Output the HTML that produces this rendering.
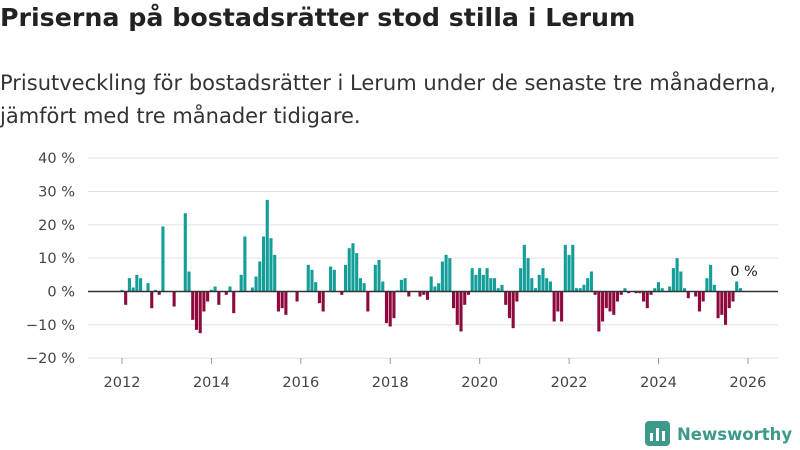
<!DOCTYPE html>
<html><head><meta charset="utf-8"><style>
body{margin:0;width:800px;height:450px;background:#fff;font-family:"DejaVu Sans","Liberation Sans",sans-serif;overflow:hidden}
h1{position:absolute;left:0;top:3px;margin:0;font-size:25.3px;font-weight:bold;color:#222;white-space:nowrap}
.sub{position:absolute;left:0;top:67px;font-size:21px;line-height:33px;color:#333;white-space:nowrap}
svg{position:absolute;left:0;top:0}
</style></head><body>
<h1>Priserna på bostadsrätter stod stilla i Lerum</h1>
<div class="sub">Prisutveckling för bostadsrätter i Lerum under de senaste tre månaderna,<br>jämfört med tre månader tidigare.</div>
<svg id="chart" width="800" height="450" font-family="DejaVu Sans, Liberation Sans, sans-serif"></svg>
<script>
const startYear = 2012;
const changes = {0:0.5,1:-4,2:4,3:1.2,4:5,5:4,7:2.5,8:-5,9:0.5,10:-1,11:19.5,14:-4.5,17:23.5,18:6,19:-8.5,20:-11.5,21:-12.5,22:-6,23:-3,24:0.5,25:1.5,26:-4,28:-1,29:1.5,30:-6.5,32:5,33:16.5,35:1.2,36:4.5,37:9,38:16.5,39:27.5,40:16,41:11,42:-6,43:-5,44:-7,47:-3,50:8,51:6.5,52:2.8,53:-3.5,54:-6,56:7.5,57:6.5,59:-1,60:8,61:13,62:14.5,63:11.5,64:4,65:2.5,66:-6,68:8,69:9.5,70:3,71:-9.5,72:-10.5,73:-8,74:0.3,75:3.5,76:4,77:-1.5,80:-1.5,81:-1,82:-2.5,83:4.5,84:1.5,85:2.5,86:9,87:11,88:10,89:-5,90:-10,91:-12,92:-4,93:-1,94:7,95:5,96:7,97:5,98:7,99:4,100:4,101:1,102:2,103:-4,104:-8,105:-11,106:-3,107:7,108:14,109:10,110:4,111:1,112:5,113:7,114:4,115:3,116:-9,117:-6,118:-9,119:14,120:11,121:14,122:1,123:1,124:2,125:4,126:6,127:-1,128:-12,129:-9,130:-5,131:-6,132:-7,133:-3,134:-1,135:1,136:-0.5,138:-0.5,139:-0.5,140:-3,141:-5,142:-1,143:1,144:2.8,145:1,147:1.5,148:7,149:10,150:6,151:1,152:-2,154:-1.5,155:-6,156:-3,157:4,158:8,159:2,160:-8,161:-7,162:-10,163:-5,164:-3,165:3,166:1};
const nMonths = 167;
const values = [];
for (let i = 0; i < nMonths; i++) values.push(changes[i] !== undefined ? changes[i] : 0);
const yTicks = [40,30,20,10,0,-10,-20];
const xTicks = [2012,2014,2016,2018,2020,2022,2024,2026];

const NS="http://www.w3.org/2000/svg";
const svg=document.getElementById('chart');
const x=yr=>122+(yr-2012)*44.71;
const y=v=>291.5-v*3.333;
function mk(t,a){const e=document.createElementNS(NS,t);for(const k in a)e.setAttribute(k,a[k]);svg.appendChild(e);return e;}
yTicks.forEach(v=>{
  if(v!==0){const g=mk('line',{x1:88,x2:778,y1:y(v),y2:y(v),stroke:'#e0e0e0','stroke-width':1});
  
  }
  const t=mk('text',{x:75,y:y(v)+5,'text-anchor':'end','font-size':14.5,fill:'#444'});
  t.textContent=(v<0?'−'+(-v):v)+' %';
  
  
});
values.forEach((v,i)=>{
  if(v===0)return;
  const cx=x(startYear+i/12);
  const r=mk('rect',{x:cx-1.6,width:3.1,y:v>0?y(v):y(0),height:Math.abs(y(v)-y(0)),fill:v>0?'#139e99':'#8e0a3c'});
  
  
});
const z=mk('line',{x1:88,x2:778,y1:y(0),y2:y(0),stroke:'#333','stroke-width':1.5});


xTicks.forEach(yr=>{
  const l=mk('line',{x1:x(yr),x2:x(yr),y1:358,y2:364,stroke:'#999'});
  
  
  const t=mk('text',{x:x(yr),y:387,'text-anchor':'middle','font-size':14.5,fill:'#444'});
  t.textContent=yr;
  
  
});
const lab=mk('text',{x:744,y:276,'text-anchor':'middle','font-size':14.5,fill:'#222'});
lab.textContent='0 %';


const logo=mk('g',{});


logo.innerHTML='<rect x="645" y="421" width="25" height="25" rx="4" fill="#3d9a8a"/><rect x="650" y="433" width="3" height="8" fill="#fff"/><rect x="656" y="428" width="3" height="13" fill="#fff"/><rect x="662" y="431" width="3" height="10" fill="#fff"/><text x="677" y="440" font-size="16.5" font-weight="bold" fill="#3d9a8a">Newsworthy</text>';
</script>
</body></html>
